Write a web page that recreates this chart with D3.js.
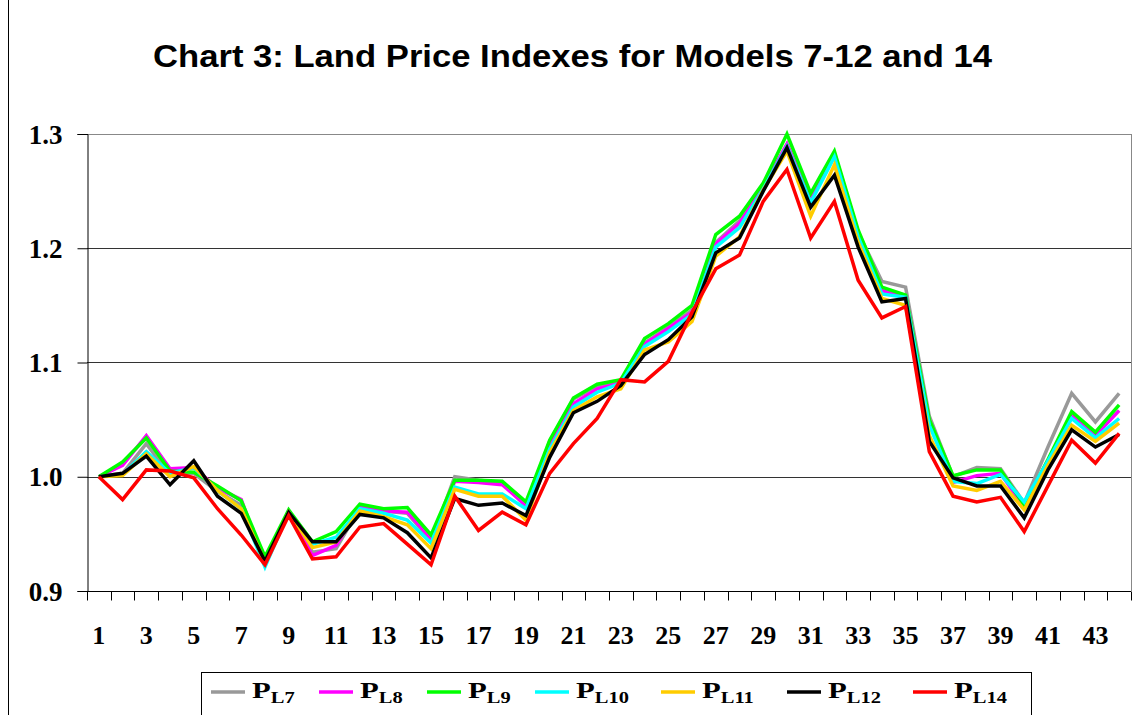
<!DOCTYPE html>
<html>
<head>
<meta charset="utf-8">
<script src="https://cdn.jsdelivr.net/npm/d3@7"></script>
<style>
  body { margin: 0; background: #fff; }
  svg { display: block; }
  .tick-label { font-family: "Liberation Serif", "Times New Roman", serif; font-weight: bold; }
</style>
</head>
<body>
<div id="chart"></div>
<script>
// periods 1..44
const periods = d3.range(1, 45);
const xLabels = periods.filter(d => d % 2 === 1);
const yTicks = [0.9, 1.0, 1.1, 1.2, 1.3];

const seriesNames = ["L7", "L8", "L9", "L10", "L11", "L12", "L14"];
const seriesColors = ["#999999", "#ff00ff", "#00ff00", "#00ffff", "#ffcc00", "#000000", "#ff0000"];

const pL7 = [1.000, 1.003, 1.029, 1.001, 1.003, 0.987, 0.975, 0.926, 0.969, 0.934, 0.937, 0.973, 0.970, 0.968, 0.944,
  1.000, 0.997, 0.995, 0.974, 1.031, 1.068, 1.079, 1.082, 1.117, 1.131, 1.146, 1.205, 1.224, 1.253, 1.291,
  1.242, 1.283, 1.214, 1.171, 1.166, 1.053, 1.000, 1.008, 1.007, 0.977, 1.026, 1.073, 1.048, 1.073];
const pL8 = [1.000, 1.010, 1.036, 1.007, 1.008, 0.990, 0.980, 0.924, 0.969, 0.931, 0.940, 0.974, 0.970, 0.969, 0.946,
  0.996, 0.995, 0.993, 0.975, 1.026, 1.064, 1.077, 1.082, 1.116, 1.130, 1.144, 1.204, 1.222, 1.253, 1.291,
  1.242, 1.282, 1.212, 1.163, 1.157, 1.048, 0.995, 1.001, 1.003, 0.973, 1.013, 1.054, 1.036, 1.058];
const pL9 = [1.000, 1.013, 1.034, 1.005, 1.004, 0.992, 0.979, 0.930, 0.971, 0.943, 0.952, 0.976, 0.972, 0.973, 0.949,
  0.997, 0.997, 0.996, 0.978, 1.032, 1.069, 1.081, 1.085, 1.121, 1.134, 1.150, 1.212, 1.228, 1.257, 1.300,
  1.248, 1.285, 1.216, 1.166, 1.159, 1.050, 1.001, 1.006, 1.006, 0.975, 1.015, 1.057, 1.039, 1.063];
const pL10 = [1.000, 1.002, 1.022, 1.003, 1.008, 0.988, 0.972, 0.921, 0.969, 0.941, 0.947, 0.972, 0.968, 0.962, 0.942,
  0.991, 0.985, 0.985, 0.972, 1.024, 1.061, 1.074, 1.082, 1.114, 1.127, 1.142, 1.201, 1.218, 1.252, 1.289,
  1.240, 1.280, 1.210, 1.160, 1.157, 1.045, 0.996, 0.994, 1.002, 0.978, 1.014, 1.051, 1.034, 1.051];
const pL11 = [1.000, 1.001, 1.020, 1.000, 1.009, 0.988, 0.972, 0.925, 0.969, 0.938, 0.943, 0.970, 0.965, 0.958, 0.937,
  0.989, 0.983, 0.983, 0.962, 1.021, 1.058, 1.070, 1.077, 1.111, 1.118, 1.136, 1.193, 1.210, 1.251, 1.285,
  1.228, 1.273, 1.205, 1.156, 1.150, 1.036, 0.992, 0.988, 0.996, 0.971, 1.010, 1.045, 1.031, 1.047];
const pL12 = [1.000, 1.003, 1.018, 0.993, 1.014, 0.983, 0.968, 0.926, 0.969, 0.943, 0.943, 0.967, 0.964, 0.951, 0.929,
  0.981, 0.975, 0.977, 0.966, 1.017, 1.056, 1.066, 1.080, 1.107, 1.120, 1.140, 1.196, 1.209, 1.250, 1.288,
  1.236, 1.264, 1.201, 1.153, 1.156, 1.031, 0.999, 0.992, 0.992, 0.964, 1.006, 1.041, 1.026, 1.037];
const pL14 = [1.000, 0.980, 1.006, 1.005, 0.999, 0.972, 0.949, 0.923, 0.966, 0.928, 0.930, 0.956, 0.959, 0.941, 0.923,
  0.983, 0.953, 0.969, 0.958, 1.003, 1.029, 1.051, 1.085, 1.083, 1.101, 1.144, 1.182, 1.194, 1.241, 1.269,
  1.209, 1.241, 1.172, 1.139, 1.149, 1.022, 0.983, 0.978, 0.982, 0.952, 0.992, 1.032, 1.012, 1.038];

const seriesValues = [pL7, pL8, pL9, pL10, pL11, pL12, pL14];

const W = 1132, H = 715;
const plot = { left: 87, right: 1131, top: 134, bottom: 591 };

const svg = d3.select("#chart").append("svg")
  .attr("width", W)
  .attr("height", H);

// outer chart border
svg.append("rect")
  .attr("x", 8.5).attr("y", -2)
  .attr("width", W + 10).attr("height", H + 10)
  .attr("fill", "none").attr("stroke", "#000").attr("stroke-width", 1);

// title (stretched a bit wider, like the original)
svg.append("text")
  .attr("x", 153).attr("y", 67)
  .attr("textLength", 839)
  .attr("lengthAdjust", "spacingAndGlyphs")
  .style("font-family", "'Liberation Sans', Arial, sans-serif")
  .style("font-weight", "bold")
  .style("font-size", "31px")
  .text("Chart 3: Land Price Indexes for Models 7-12 and 14");

const x = d3.scaleBand()
  .domain(periods)
  .range([plot.left, plot.right])
  .padding(0);

const y = d3.scaleLinear()
  .domain([0.9, 1.3])
  .range([plot.bottom, plot.top]);

const cx = d => x(d) + x.bandwidth() / 2;

// grid lines
svg.append("g")
  .selectAll("line")
  .data(yTicks.filter(t => t > 0.9))
  .enter()
  .append("line")
  .attr("x1", plot.left).attr("x2", plot.right)
  .attr("y1", d => Math.round(y(d)) + 0.5).attr("y2", d => Math.round(y(d)) + 0.5)
  .attr("stroke", d => d === 1.3 ? "#888" : "#333")
  .attr("stroke-width", 1);

// right edge of plot area
svg.append("line")
  .attr("x1", plot.right + 0.5).attr("x2", plot.right + 0.5)
  .attr("y1", plot.top).attr("y2", plot.bottom)
  .attr("stroke", "#888");

// y axis
const yAxis = svg.append("g")
  .attr("transform", `translate(${plot.left + 0.5},0)`)
  .call(d3.axisLeft(y).tickValues(yTicks).tickFormat(d3.format(".1f")).tickSize(10).tickPadding(15));
yAxis.select(".domain").attr("stroke", "#000");
yAxis.selectAll(".tick line").attr("stroke", "#000");
yAxis.selectAll(".tick text")
  .attr("class", "tick-label")
  .style("font-size", "27px")
  .attr("fill", "#000")
  .attr("dy", "0.34em");

// x axis: ticks on category boundaries
const xAxisG = svg.append("g")
  .attr("transform", `translate(0,${plot.bottom + 0.5})`);
xAxisG.append("line")
  .attr("x1", plot.left).attr("x2", plot.right)
  .attr("stroke", "#000");
xAxisG.selectAll(".bound")
  .data(periods.concat([45]))
  .enter()
  .append("line")
  .attr("class", "bound")
  .attr("x1", d => Math.round(d <= 44 ? x(d) : plot.right) + 0.5)
  .attr("x2", d => Math.round(d <= 44 ? x(d) : plot.right) + 0.5)
  .attr("y1", 0).attr("y2", 9)
  .attr("stroke", "#000");
xAxisG.selectAll(".xl")
  .data(xLabels)
  .enter()
  .append("text")
  .attr("class", "tick-label")
  .attr("x", d => cx(d))
  .attr("y", 52)
  .attr("text-anchor", "middle")
  .style("font-size", "26px")
  .text(d => d);

// lines
const line = d3.line()
  .x((d, i) => cx(periods[i]))
  .y(d => y(d));

svg.append("g")
  .selectAll("path")
  .data(seriesValues)
  .enter()
  .append("path")
  .attr("d", line)
  .attr("fill", "none")
  .attr("stroke", (d, i) => seriesColors[i])
  .attr("stroke-width", 3.5)
  .attr("stroke-linejoin", "miter");

// legend
const legend = svg.append("g");
legend.append("rect")
  .attr("x", 201.5).attr("y", 672.5)
  .attr("width", 830).attr("height", 60)
  .attr("fill", "#fff").attr("stroke", "#000");

// entry widths as in the original legend (first three narrower)
let lx = 211;
seriesNames.forEach((name, i) => {
  legend.append("line")
    .attr("x1", lx).attr("x2", lx + 34)
    .attr("y1", 692).attr("y2", 692)
    .attr("stroke", seriesColors[i])
    .attr("stroke-width", 3.5);
  const g = legend.append("g")
    .attr("transform", `translate(${lx + 41},698) scale(1.28,1)`);
  const t = g.append("text")
    .attr("class", "tick-label")
    .style("font-size", "24px");
  t.append("tspan").text("P");
  t.append("tspan")
    .attr("dy", 5)
    .style("font-size", "16px")
    .text(name);
  lx += name.length > 2 ? 126 : 108;
});
</script>
</body>
</html>
